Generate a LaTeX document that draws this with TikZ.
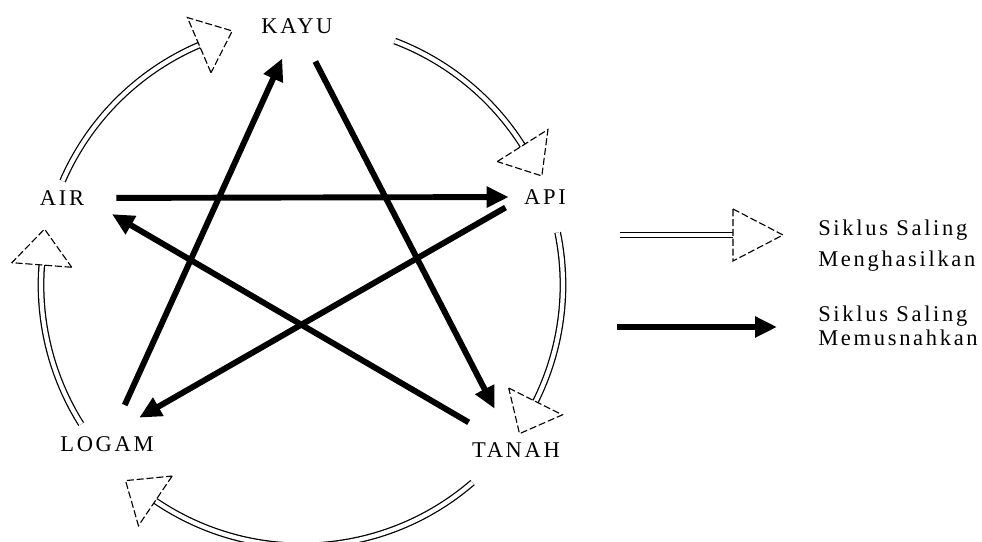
\documentclass[tikz,border=0pt]{standalone}
\usepackage{fontspec}
\setmainfont{Liberation Serif}[LetterSpace=12]
\usetikzlibrary{arrows.meta,calc}

\begin{document}
\begin{tikzpicture}[>={Triangle[length=0.55cm,width=0.5cm]},
    unsur/.style={inner sep=0pt,font=\fontsize{16}{17}\selectfont},
    hasil/.style={draw=black,line width=0.9pt,double=white,double distance=3pt},
    kepala/.style={line width=0.8pt,dash pattern=on 5pt off 2pt},
    musnah/.style={->,line width=4.2pt}]
    \useasboundingbox (0,0) rectangle (24.55,-13.55);
    \def\lingkar{6.525}
    \coordinate (c) at (7.55,-7.125);
    \node[unsur] (kayu) at (7.425,-0.65) {KAYU};
    \node[unsur] (api) at (13.625,-4.925) {API};
    \node[unsur] (tanah) at (12.9,-11.25) {TANAH};
    \node[unsur] (logam) at (2.675,-11.1) {LOGAM};
    \node[unsur] (air) at (1.55,-4.95) {AIR};
    % siklus saling menghasilkan
    \foreach \a/\b in {156.5/113.2, 69.2/32.3, 11.6/-26.5, -49.2/-124.2, -147.8/-184.4} {
        \draw[hasil] ([shift={(\a:\lingkar)}]c) arc[start angle=\a, end angle=\b, radius=\lingkar];
        \begin{scope}[shift={(c)}, rotate=\b]
            \draw[kepala] (\lingkar-0.75,0) -- (\lingkar+0.75,0) -- (\lingkar,-0.9) -- cycle;
        \end{scope}
    }
    % siklus saling memusnahkan
    \draw[musnah,shorten <=1.07cm,shorten >=0.89cm] (logam.center) -- (kayu.center);
    \draw[musnah,shorten <=1.0cm,shorten >=1.16cm] (kayu.center) -- (tanah.center);
    \draw[musnah,shorten <=1.37cm,shorten >=0.8cm] (tanah.center) -- (air.east);
    \draw[musnah,shorten <=0.8cm,shorten >=0.38cm] (air.east) -- (api.west);
    \draw[musnah,shorten <=0.53cm,shorten >=0.93cm] (api.west) -- (logam.north);
    % keterangan
    \coordinate (h1) at (15.5,-5.875);
    \coordinate (h2) at (18.325,-5.875);
    \draw[hasil] (h1) -- (h2);
    \draw[kepala] ($(h2)+(0,0.65)$) -- ($(h2)+(1.25,0)$) -- ($(h2)+(0,-0.65)$) -- cycle;
    \node[unsur,align=left,anchor=west] (ket1) at (20.45,-6.15) {Siklus Saling\\[5pt]Menghasilkan};
    \coordinate (m1) at (15.425,-8.175);
    \coordinate (m2) at (19.425,-8.175);
    \draw[musnah] (m1) -- (m2);
    \node[unsur,align=left,anchor=west] (ket2) at (20.45,-8.15) {Siklus Saling\\Memusnahkan};
\end{tikzpicture}
\end{document}
